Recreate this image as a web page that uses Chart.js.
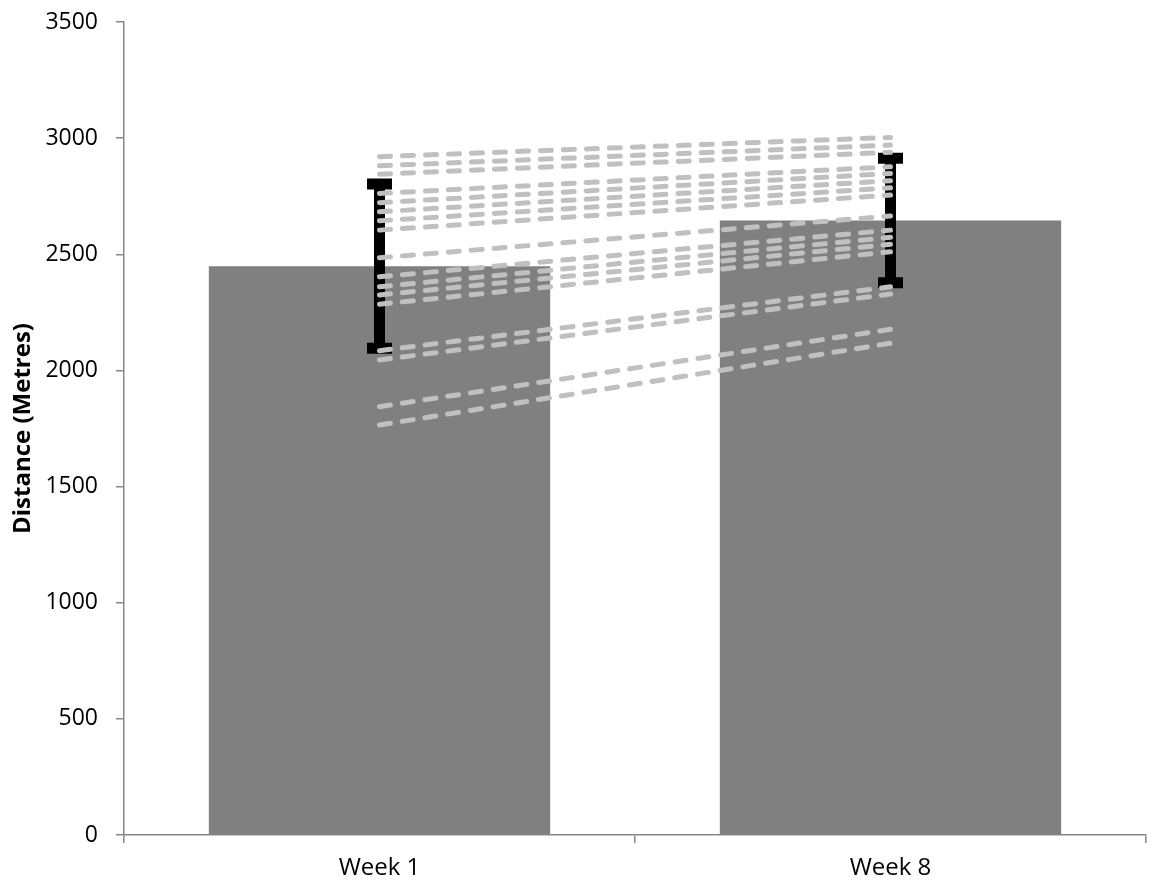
<!DOCTYPE html>
<html>
<head>
<meta charset="utf-8">
<script src="https://cdn.jsdelivr.net/npm/chart.js@4"></script>
<style>
  html, body { margin: 0; padding: 0; background: #fff; }
</style>
</head>
<body>
<canvas id="myChart" width="1152" height="883"></canvas>
<script>
// group means with SD error bars
var weeks = ['Week 1', 'Week 8'];
var meanDistance = [2449, 2645];
var sdDistance = [354, 268];

// individual participants, week 1 -> week 8
var week1Distance = [2920, 2881, 2845, 2762, 2722, 2683, 2644, 2604, 2485, 2403, 2360, 2325, 2285, 2085, 2045, 1844, 1765];
var week8Distance = [3003, 2970, 2939, 2877, 2848, 2817, 2786, 2755, 2665, 2604, 2573, 2543, 2511, 2360, 2329, 2177, 2117];

var yTicks = [0, 500, 1000, 1500, 2000, 2500, 3000, 3500];

var axisColor = '#878787';

var errorBars = {
    id: 'errorBars',
    afterDatasetDraw: function (chart, args) {
        if (args.index !== 0) return;
        var ctx = chart.ctx;
        var xs = chart.scales.x, ys = chart.scales.y;
        ctx.save();
        ctx.strokeStyle = '#000';
        ctx.lineWidth = 11;
        ctx.lineCap = 'butt';
        meanDistance.forEach(function (m, i) {
            var px = xs.getPixelForValue(i);
            var top = ys.getPixelForValue(m + sdDistance[i]);
            var bot = ys.getPixelForValue(m - sdDistance[i]);
            ctx.beginPath();
            ctx.moveTo(px, top - 5.5);
            ctx.lineTo(px, bot + 5.5);
            ctx.moveTo(px - 12.5, top);
            ctx.lineTo(px + 12.5, top);
            ctx.moveTo(px - 12.5, bot);
            ctx.lineTo(px + 12.5, bot);
            ctx.stroke();
        });
        ctx.restore();
    }
};

var datasets = [{
    type: 'bar',
    data: meanDistance,
    backgroundColor: '#808080',
    borderWidth: 0,
    barPercentage: 0.668,
    categoryPercentage: 1,
    order: 1
}];

week1Distance.forEach(function (v, i) {
    datasets.push({
        type: 'line',
        data: [v, week8Distance[i]],
        borderColor: '#c0c0c0',
        borderWidth: 5,
        borderDash: [11, 12],
        borderCapStyle: 'round',
        pointRadius: 0,
        fill: false,
        tension: 0,
        order: 0
    });
});

var ctx = document.getElementById('myChart').getContext('2d');
var myChart = new Chart(ctx, {
    type: 'bar',
    data: {
        labels: weeks,
        datasets: datasets
    },
    plugins: [errorBars],
    options: {
        responsive: false,
        animation: false,
        layout: {
            padding: { top: 22, right: 6, bottom: 0, left: 0 }
        },
        plugins: {
            legend: { display: false },
            tooltip: { enabled: false }
        },
        scales: {
            x: {
                offset: true,
                grid: {
                    offset: true,
                    drawOnChartArea: false,
                    tickLength: 8,
                    color: axisColor,
                    lineWidth: 1.5
                },
                border: { color: axisColor, width: 1.5 },
                ticks: {
                    color: '#000',
                    padding: 11,
                    font: { family: 'Open Sans', size: 24 }
                },
                afterFit: function (scale) { scale.height = 48; }
            },
            y: {
                min: 0,
                max: 3500,
                afterBuildTicks: function (scale) {
                    scale.ticks = yTicks.map(function (v) { return { value: v }; });
                },
                grid: {
                    drawOnChartArea: false,
                    tickLength: 8,
                    color: axisColor,
                    lineWidth: 1.5
                },
                border: { color: axisColor, width: 1.5 },
                ticks: {
                    color: '#000',
                    padding: 18,
                    font: { family: 'Open Sans', size: 23 },
                    callback: function (v) { return String(v); }
                },
                title: {
                    display: true,
                    text: 'Distance (Metres)',
                    color: '#000',
                    padding: { top: 9, bottom: 0 },
                    font: { family: 'Open Sans', size: 24, weight: 'bold' }
                },
                afterFit: function (scale) {
                    scale.width = 124;
                    scale.paddingTop = 0;
                    scale.paddingBottom = 0;
                }
            }
        }
    }
});
</script>
</body>
</html>
